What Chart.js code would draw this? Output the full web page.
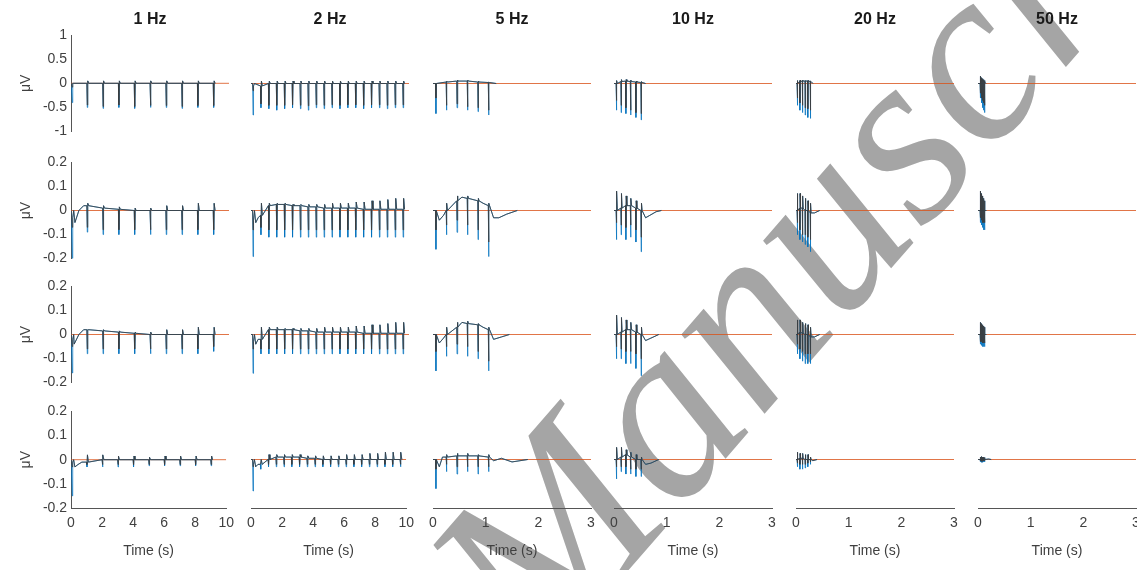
<!DOCTYPE html>
<html>
<head>
<meta charset="utf-8">
<script src="https://cdn.jsdelivr.net/npm/chart.js"></script>
<style>
html, body { margin: 0; padding: 0; background: #fff; overflow: hidden; }
#wrap { position: relative; width: 1137px; height: 570px; overflow: hidden; }
#wrap canvas { position: absolute; }
</style>
</head>
<body>
<div id="wrap"><canvas id="mark" width="1137" height="570" style="left:0;top:0"></canvas></div>
<script>
// stimulation frequencies (columns) and pulse times in seconds
const titles = ['1 Hz', '2 Hz', '5 Hz', '10 Hz', '20 Hz', '50 Hz'];
const xMax = [10, 10, 3, 3, 3, 3];
const xTicksLong = [0, 2, 4, 6, 8, 10];
const xTicksShort = [0, 1, 2, 3];
const yTicksTop = [-1, -0.5, 0, 0.5, 1];
const yTicksLow = [-0.2, -0.1, 0, 0.1, 0.2];

const pulses1Hz = [0.05, 1, 2, 3, 4, 5, 6, 7, 8, 9];
const pulses2Hz = [0.1, 0.6, 1.1, 1.6, 2.1, 2.6, 3.1, 3.6, 4.1, 4.6, 5.1, 5.6, 6.1, 6.6, 7.1, 7.6, 8.1, 8.6, 9.1, 9.6];
const pulses5Hz = [0.05, 0.25, 0.45, 0.65, 0.85, 1.05];
const pulses10Hz = [0.04, 0.13, 0.22, 0.31, 0.41, 0.51];
const pulses20Hz = [0.02, 0.07, 0.12, 0.17, 0.22, 0.27];
const pulses50Hz = [0.04, 0.06, 0.08, 0.1, 0.12];

// row 1 (uV, +-1)
const base1 = [
  [0, 0, 0, 0, 0, 0, 0, 0, 0, 0],
  [0, -0.05, 0, 0, 0, 0, 0, 0, 0, 0, 0, 0, 0, 0, 0, 0, 0, 0, 0, 0],
  [0, 0.03, 0.05, 0.05, 0.03, 0.02],
  [0, 0.04, 0.05, 0.04, 0.03, 0.02],
  [0, 0.04, 0.05, 0.05, 0.05, 0.04],
  [0, 0.05, 0.05, 0.04, 0.03]
];
const low1 = [
  [-0.4, -0.5, -0.52, -0.5, -0.52, -0.5, -0.5, -0.52, -0.5, -0.5],
  [-0.65, -0.5, -0.52, -0.55, -0.52, -0.5, -0.52, -0.55, -0.5, -0.52, -0.5, -0.52, -0.5, -0.5, -0.52, -0.5, -0.5, -0.52, -0.5, -0.5],
  [-0.62, -0.55, -0.5, -0.55, -0.58, -0.65],
  [-0.55, -0.6, -0.62, -0.65, -0.7, -0.75],
  [-0.45, -0.55, -0.6, -0.65, -0.7, -0.72],
  [-0.3, -0.4, -0.5, -0.55, -0.6]
];
const dark1 = [
  [-0.08, -0.45, -0.48, -0.45, -0.48, -0.46, -0.46, -0.48, -0.46, -0.46],
  [-0.15, -0.42, -0.45, -0.45, -0.45, -0.44, -0.45, -0.46, -0.44, -0.45, -0.44, -0.45, -0.44, -0.44, -0.45, -0.44, -0.44, -0.45, -0.44, -0.44],
  [-0.3, -0.45, -0.42, -0.48, -0.5, -0.55],
  [-0.35, -0.45, -0.5, -0.55, -0.6, -0.62],
  [-0.3, -0.4, -0.45, -0.5, -0.52, -0.55],
  [-0.2, -0.3, -0.35, -0.4, -0.45]
];
const high1 = [
  [0, 0.05, 0.05, 0.05, 0.05, 0.05, 0.05, 0.05, 0.05, 0.05],
  [-0.05, 0.05, 0.05, 0.05, 0.05, 0.05, 0.05, 0.05, 0.05, 0.05, 0.05, 0.05, 0.05, 0.05, 0.05, 0.05, 0.05, 0.05, 0.05, 0.05],
  [0, 0.05, 0.07, 0.07, 0.05, 0.03],
  [0.06, 0.08, 0.08, 0.07, 0.05, 0.04],
  [0.06, 0.07, 0.07, 0.06, 0.06, 0.05],
  [0.15, 0.12, 0.1, 0.08, 0.06]
];
const settle1 = [[], [], [[1.2, 0]], [[0.6, 0]], [[0.32, 0]], [[0.15, 0]]];

// row 2 (uV, +-0.2)
const base2 = [
  [0, 0.02, 0.01, 0.005, 0, 0, 0, 0, 0, 0],
  [0, -0.02, 0.02, 0.025, 0.025, 0.02, 0.02, 0.015, 0.015, 0.01, 0.01, 0.01, 0.01, 0.01, 0.005, 0.005, 0.005, 0.005, 0.005, 0.005],
  [0, 0, 0.04, 0.05, 0.04, 0.02],
  [0, 0.01, 0.02, 0.02, 0.01, 0],
  [0, 0.01, 0.01, 0, 0, -0.01],
  [0, 0.01, 0, 0, 0]
];
const low2 = [
  [-0.2, -0.09, -0.1, -0.1, -0.1, -0.1, -0.1, -0.1, -0.1, -0.1],
  [-0.19, -0.1, -0.11, -0.11, -0.11, -0.11, -0.11, -0.11, -0.11, -0.11, -0.11, -0.11, -0.11, -0.11, -0.11, -0.11, -0.11, -0.11, -0.11, -0.11],
  [-0.16, -0.1, -0.09, -0.1, -0.12, -0.19],
  [-0.12, -0.1, -0.12, -0.11, -0.13, -0.17],
  [-0.1, -0.12, -0.13, -0.14, -0.15, -0.17],
  [-0.05, -0.06, -0.07, -0.08, -0.08]
];
const dark2 = [
  [-0.07, -0.07, -0.08, -0.08, -0.08, -0.08, -0.08, -0.08, -0.08, -0.08],
  [-0.08, -0.07, -0.08, -0.08, -0.08, -0.08, -0.08, -0.08, -0.08, -0.08, -0.08, -0.08, -0.08, -0.08, -0.08, -0.08, -0.08, -0.08, -0.08, -0.08],
  [-0.08, -0.06, -0.04, -0.06, -0.08, -0.13],
  [-0.05, -0.06, -0.07, -0.06, -0.08, -0.11],
  [-0.05, -0.08, -0.1, -0.1, -0.11, -0.12],
  [-0.03, -0.04, -0.05, -0.05, -0.05]
];
const high2 = [
  [-0.03, 0.03, 0.02, 0.015, 0.01, 0.01, 0.02, 0.02, 0.03, 0.03],
  [-0.04, 0.03, 0.03, 0.03, 0.03, 0.025, 0.025, 0.025, 0.025, 0.025, 0.03, 0.03, 0.03, 0.035, 0.035, 0.04, 0.04, 0.045, 0.05, 0.05],
  [0, 0.03, 0.06, 0.06, 0.05, 0.03],
  [0.08, 0.07, 0.06, 0.05, 0.04, 0.03],
  [0.07, 0.07, 0.06, 0.05, 0.04, 0.03],
  [0.08, 0.07, 0.06, 0.05, 0.04]
];
const settle2 = [
  [[0.25, -0.05], [0.5, 0], [0.8, 0.02]],
  [[0.3, -0.05], [0.45, -0.03]],
  [[0.12, -0.04], [0.2, -0.02], [0.55, 0.055], [0.95, 0.03], [1.15, -0.03], [1.25, -0.03], [1.4, -0.015], [1.6, 0]],
  [[0.6, -0.03], [0.68, -0.02], [0.8, -0.005], [0.9, 0]],
  [[0.35, -0.01], [0.45, 0]],
  [[0.16, 0]]
];

// row 3 (uV, +-0.2)
const base3 = [
  [0, 0.02, 0.015, 0.01, 0.005, 0, 0, 0, 0, 0],
  [0, -0.02, 0.02, 0.02, 0.02, 0.02, 0.015, 0.015, 0.01, 0.01, 0.01, 0.01, 0.01, 0.01, 0.005, 0.005, 0.005, 0.005, 0.005, 0.005],
  [0, 0, 0.03, 0.045, 0.04, 0.02],
  [0, 0.01, 0.02, 0.02, 0.01, 0],
  [0, 0.01, 0.005, 0, 0, -0.01],
  [0, 0.005, 0, 0, 0]
];
const low3 = [
  [-0.16, -0.08, -0.08, -0.08, -0.08, -0.08, -0.08, -0.08, -0.08, -0.07],
  [-0.16, -0.08, -0.08, -0.08, -0.08, -0.08, -0.08, -0.08, -0.08, -0.08, -0.08, -0.08, -0.08, -0.08, -0.08, -0.08, -0.08, -0.08, -0.08, -0.08],
  [-0.15, -0.09, -0.08, -0.09, -0.1, -0.15],
  [-0.1, -0.1, -0.12, -0.12, -0.14, -0.17],
  [-0.08, -0.1, -0.11, -0.12, -0.12, -0.12],
  [-0.04, -0.045, -0.05, -0.05, -0.05]
];
const dark3 = [
  [-0.05, -0.06, -0.06, -0.06, -0.06, -0.06, -0.06, -0.06, -0.06, -0.05],
  [-0.06, -0.06, -0.06, -0.06, -0.06, -0.06, -0.06, -0.06, -0.06, -0.06, -0.06, -0.06, -0.06, -0.06, -0.06, -0.06, -0.06, -0.06, -0.06, -0.06],
  [-0.07, -0.05, -0.04, -0.05, -0.07, -0.11],
  [-0.05, -0.06, -0.07, -0.07, -0.08, -0.1],
  [-0.04, -0.06, -0.07, -0.08, -0.08, -0.08],
  [-0.03, -0.03, -0.035, -0.035, -0.035]
];
const high3 = [
  [-0.02, 0.02, 0.02, 0.015, 0.01, 0.01, 0.02, 0.02, 0.03, 0.03],
  [-0.03, 0.03, 0.03, 0.03, 0.025, 0.025, 0.025, 0.025, 0.025, 0.03, 0.03, 0.03, 0.03, 0.035, 0.035, 0.04, 0.04, 0.045, 0.05, 0.05],
  [0, 0.03, 0.05, 0.055, 0.045, 0.03],
  [0.08, 0.07, 0.06, 0.05, 0.04, 0.03],
  [0.06, 0.06, 0.05, 0.045, 0.04, 0.03],
  [0.05, 0.045, 0.04, 0.035, 0.03]
];
const settle3 = [
  [[0.2, -0.04], [0.5, 0], [0.8, 0.02]],
  [[0.3, -0.04], [0.45, -0.02]],
  [[0.12, -0.035], [0.2, -0.015], [0.55, 0.05], [0.95, 0.03], [1.15, -0.02], [1.3, -0.01], [1.45, 0]],
  [[0.6, -0.025], [0.7, -0.015], [0.85, 0]],
  [[0.35, -0.01], [0.45, 0]],
  [[0.16, 0]]
];

// row 4 (uV, +-0.2)
const base4 = [
  [0, -0.01, 0, 0, 0, 0, 0, 0, 0, 0],
  [0, -0.02, 0, 0.01, 0.01, 0.01, 0.01, 0.005, 0.005, 0, 0, 0, 0, 0, 0, 0, 0, 0, 0, 0],
  [0, 0.01, 0.015, 0.015, 0.015, 0.01],
  [0, 0.01, 0.02, 0.01, 0, 0],
  [0, 0.005, 0.005, 0, 0, 0],
  [0, 0, 0, 0, 0]
];
const low4 = [
  [-0.15, -0.03, -0.03, -0.03, -0.03, -0.025, -0.025, -0.025, -0.025, -0.025],
  [-0.13, -0.04, -0.03, -0.03, -0.03, -0.03, -0.03, -0.03, -0.03, -0.03, -0.03, -0.03, -0.03, -0.03, -0.03, -0.03, -0.03, -0.03, -0.03, -0.03],
  [-0.12, -0.05, -0.06, -0.05, -0.06, -0.05],
  [-0.08, -0.05, -0.06, -0.06, -0.07, -0.07],
  [-0.03, -0.04, -0.04, -0.035, -0.03, -0.02],
  [-0.01, -0.012, -0.012, -0.01, -0.01]
];
const dark4 = [
  [-0.03, -0.02, -0.02, -0.02, -0.02, -0.02, -0.02, -0.02, -0.02, -0.02],
  [-0.03, -0.02, -0.02, -0.02, -0.02, -0.02, -0.02, -0.02, -0.02, -0.02, -0.02, -0.02, -0.02, -0.02, -0.02, -0.02, -0.02, -0.02, -0.02, -0.02],
  [-0.04, -0.02, -0.03, -0.03, -0.03, -0.03],
  [-0.03, -0.03, -0.03, -0.04, -0.04, -0.04],
  [-0.015, -0.02, -0.02, -0.02, -0.015, -0.01],
  [-0.006, -0.008, -0.008, -0.006, -0.006]
];
const high4 = [
  [-0.01, 0.02, 0.02, 0.015, 0.015, 0.01, 0.015, 0.015, 0.015, 0.015],
  [-0.02, 0, 0.02, 0.02, 0.02, 0.02, 0.02, 0.015, 0.015, 0.015, 0.015, 0.015, 0.02, 0.02, 0.02, 0.025, 0.025, 0.03, 0.03, 0.03],
  [0, 0.02, 0.025, 0.025, 0.02, 0.02],
  [0.05, 0.05, 0.04, 0.03, 0.02, 0.01],
  [0.03, 0.025, 0.025, 0.02, 0.02, 0.01],
  [0.01, 0.012, 0.01, 0.01, 0.008]
];
const settle4 = [
  [[0.25, -0.03], [0.45, -0.02], [0.7, -0.01]],
  [[0.3, -0.03], [0.45, -0.02]],
  [[0.12, -0.03], [0.18, 0.01], [1.15, -0.005], [1.3, 0.005], [1.5, -0.01], [1.8, 0]],
  [[0.6, -0.02], [0.7, -0.015], [0.85, 0]],
  [[0.32, -0.005], [0.4, 0]],
  [[0.2, 0.002], [0.25, 0]]
];

const pulses = [pulses1Hz, pulses2Hz, pulses5Hz, pulses10Hz, pulses20Hz, pulses50Hz];
const bases = [base1, base2, base3, base4];
const lows = [low1, low2, low3, low4];
const darks = [dark1, dark2, dark3, dark4];
const highs = [high1, high2, high3, high4];
const settles = [settle1, settle2, settle3, settle4];

// layout (pixels)
const colLeft = [71, 251, 433, 614, 796, 978];
const rowTop = [35, 162, 286, 411];
const plotW = 158, plotH = 97;
const edge = 12, axisW = 71, axisH = 62, titleH = 35;
const spikeStep = [0.03, 0.03, 0.006, 0.006, 0.004, 0.003];
const font = "'Liberation Sans', Arial, sans-serif";
const textColor = '#404040';
const axisColor = '#555555';
const blue = 'rgba(0, 114, 189, 0.75)';
const dark = 'rgba(60, 60, 60, 0.8)';
const red = 'rgba(217, 83, 25, 0.8)';

function trace(times, base, low, high, settle, step) {
  const pts = [{x: 0, y: 0}];
  times.forEach((t, i) => {
    pts.push({x: t, y: base[i]}, {x: t + step, y: low[i]}, {x: t + 2 * step, y: high[i]}, {x: t + 4 * step, y: base[i]});
  });
  settle.forEach(p => pts.push({x: p[0], y: p[1]}));
  pts.sort((a, b) => a.x - b.x);
  return pts;
}

// watermark
const mk = document.getElementById('mark').getContext('2d');
mk.save();
mk.translate(540, 672);
mk.rotate(-49 * Math.PI / 180);
mk.font = "italic 250px 'Liberation Serif'";
mk.fillStyle = '#a5a5a5';
mk.fillText('Manuscript', 0, 0);
mk.restore();

const wrap = document.getElementById('wrap');
rowTop.forEach((top, r) => {
  colLeft.forEach((left, c) => {
    const hasY = c === 0;
    const hasX = r === 3;
    const padL = hasY ? 0 : edge;
    const padT = r === 0 ? 0 : edge;
    const padB = hasX ? 0 : edge;
    const lw = hasY ? axisW : 0;
    const th = r === 0 ? titleH : 0;
    const bh = hasX ? axisH : 0;
    const w = lw + padL + plotW + edge;
    const h = th + padT + plotH + padB + bh;
    const cv = document.createElement('canvas');
    cv.width = w;
    cv.height = h;
    cv.style.left = (left - lw - padL) + 'px';
    cv.style.top = (top - th - padT) + 'px';
    cv.style.width = w + 'px';
    cv.style.height = h + 'px';
    wrap.appendChild(cv);

    const step = spikeStep[c];
    const blueLine = trace(pulses[c], bases[r][c], lows[r][c], highs[r][c], settles[r][c], step);
    const darkLine = trace(pulses[c], bases[r][c], darks[r][c], highs[r][c], settles[r][c], step);
    const yTicks = r === 0 ? yTicksTop : yTicksLow;
    const xTicks = xMax[c] === 10 ? xTicksLong : xTicksShort;

    new Chart(cv, {
      type: 'line',
      data: {
        datasets: [
          { data: darkLine, borderColor: dark, borderWidth: 1, pointRadius: 0 },
          { data: blueLine, borderColor: blue, borderWidth: 1, pointRadius: 0 },
          { data: [{x: 0, y: 0}, {x: xMax[c], y: 0}], borderColor: red, borderWidth: 1, pointRadius: 0 }
        ]
      },
      options: {
        responsive: false,
        maintainAspectRatio: false,
        animation: false,
        events: [],
        layout: { padding: { left: padL, right: edge, top: padT, bottom: padB } },
        elements: { line: { tension: 0 } },
        plugins: {
          legend: { display: false },
          tooltip: { enabled: false },
          title: {
            display: r === 0,
            fullSize: false,
            text: titles[c],
            color: '#1a1a1a',
            font: { size: 16, weight: 'bold', family: font },
            padding: { top: 10, bottom: 5.8 }
          }
        },
        scales: {
          x: {
            type: 'linear',
            display: hasX,
            min: 0,
            max: xMax[c],
            afterBuildTicks: s => { s.ticks = xTicks.map(v => ({value: v})); },
            ticks: { color: textColor, font: { size: 14, family: font }, padding: 7, maxRotation: 0, autoSkip: false, callback: v => String(v) },
            grid: { display: false, drawTicks: false },
            border: { display: true, color: axisColor },
            title: { display: true, text: 'Time (s)', color: textColor, font: { size: 14, family: font }, padding: { top: 0, bottom: 10 } },
            afterFit: s => { if (hasX) s.height = axisH; }
          },
          y: {
            display: hasY,
            min: yTicks[0],
            max: yTicks[yTicks.length - 1],
            afterBuildTicks: s => { s.ticks = yTicks.map(v => ({value: v})); },
            ticks: { color: textColor, font: { size: 14, family: font }, padding: 4, callback: v => String(v) },
            grid: { display: false, drawTicks: false },
            border: { display: true, color: axisColor },
            title: { display: true, text: 'μV', color: textColor, font: { size: 14, family: font }, padding: { top: 18, bottom: 0 } },
            afterFit: s => { if (hasY) s.width = axisW; }
          }
        }
      }
    });
  });
});
</script>
</body>
</html>
